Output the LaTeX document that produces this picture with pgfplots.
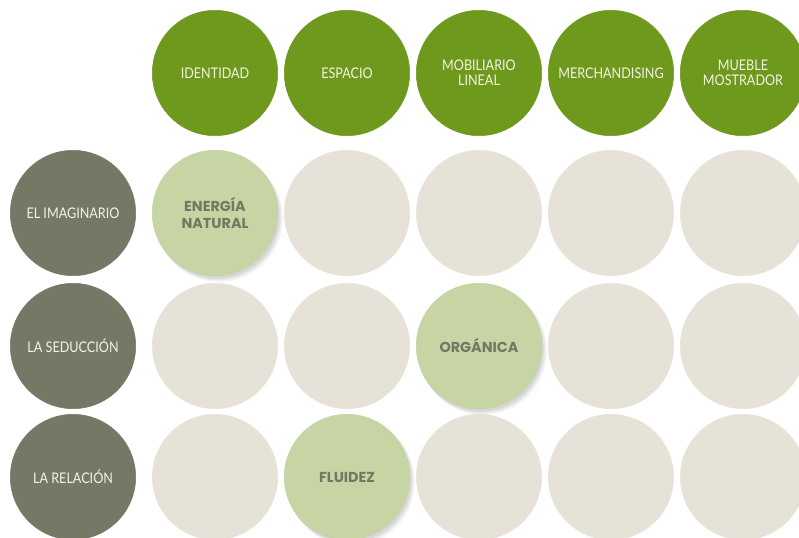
\documentclass[border=0pt]{standalone}
\usepackage{pgfplots}
\pgfplotsset{compat=1.18}
\usepackage{fontspec}
\setmainfont{Lato}
\newfontfamily\thinfont{Lato}[FakeStretch=0.86]
\newfontfamily\heavyfont{Poppins}
\definecolor{hdr}{HTML}{6E991C}
\definecolor{lbl}{HTML}{767866}
\definecolor{emptyc}{HTML}{E6E2D7}
\definecolor{hi}{HTML}{C7D5A4}
\definecolor{hitxt}{HTML}{747762}
\definecolor{wtxt}{HTML}{F2F3E6}
\begin{document}
\begin{tikzpicture}
\begin{axis}[
  width=599.25pt, height=402.75pt, scale only axis,
  xmin=0, xmax=799, ymin=0, ymax=537, y dir=reverse,
  hide axis, clip marker paths=true,
  point meta=explicit symbolic,
]
% empty grid circles
\addplot[only marks, mark=*, mark size=47pt, draw=emptyc, fill=emptyc, mark options={draw=emptyc, fill=emptyc}] coordinates {
 (215,213) (347,213) (479,213) (611,213) (743,213)
 (215,346) (347,346) (479,346) (611,346) (743,346)
 (215,477) (347,477) (479,477) (611,477) (743,477)
};
% shadows of highlighted circles
\addplot[only marks, mark=*, mark size=48pt, mark options={draw opacity=0, fill=black, fill opacity=0.04}] coordinates {(219,218) (483,351) (351,482)};
\addplot[only marks, mark=*, mark size=47.5pt, mark options={draw opacity=0, fill=black, fill opacity=0.06}] coordinates {(218,217) (482,350) (350,481)};
\addplot[only marks, mark=*, mark size=47pt, mark options={draw opacity=0, fill=black, fill opacity=0.07}] coordinates {(217,216) (481,349) (349,480)};
% highlighted circles
\addplot[only marks, mark=*, mark size=47pt, mark options={draw=hi, fill=hi},
  nodes near coords, nodes near coords style={anchor=center, align=center, text=hitxt, font=\heavyfont\bfseries\fontsize{10.8}{13}\selectfont}] coordinates {
 (215,213)[{ENERGÍA\\NATURAL}] (479,346)[ORGÁNICA] (347,477)[FLUIDEZ]
};
% header circles
\addplot[only marks, mark=*, mark size=47pt, mark options={draw=hdr, fill=hdr},
  nodes near coords, nodes near coords style={anchor=center, align=center, text=wtxt, font=\thinfont\fontsize{11}{11.5}\selectfont}] coordinates {
 (215,73)[IDENTIDAD] (347,73)[ESPACIO] (479,73)[{MOBILIARIO\\LINEAL}] (611,73)[MERCHANDISING] (743,73)[{MUEBLE\\MOSTRADOR}]
};
% row label circles
\addplot[only marks, mark=*, mark size=47pt, mark options={draw=lbl, fill=lbl},
  nodes near coords, nodes near coords style={anchor=center, align=center, text=wtxt, font=\thinfont\fontsize{11}{11.5}\selectfont}] coordinates {
 (73,213)[EL IMAGINARIO] (73,346)[LA SEDUCCIÓN] (73,477)[LA RELACIÓN]
};
\end{axis}
\pgfresetboundingbox
\path (current axis.south west) rectangle (current axis.north east);
\end{tikzpicture}
\end{document}
